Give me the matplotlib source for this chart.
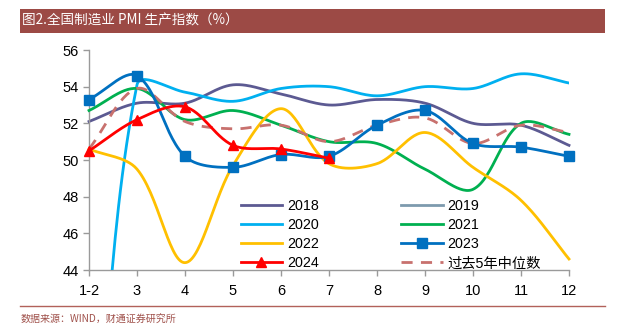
import numpy as np
import matplotlib
matplotlib.use("Agg")
import matplotlib.pyplot as plt
from matplotlib.patches import Rectangle
from matplotlib.lines import Line2D

plt.rcParams['font.family'] = ['Liberation Sans', 'Noto Sans CJK SC', 'DejaVu Sans']

months = ["1-2", "3", "4", "5", "6", "7", "8", "9", "10", "11", "12"]
y2018 = [52.1, 53.1, 53.1, 54.1, 53.6, 53.0, 53.3, 53.1, 52.0, 51.9, 50.8]
y2019 = []
y2020 = [27.8, 54.1, 53.7, 53.2, 53.9, 54.0, 53.5, 54.0, 53.9, 54.7, 54.2]
y2021 = [52.7, 53.9, 52.2, 52.7, 51.9, 51.0, 50.9, 49.5, 48.4, 52.0, 51.4]
y2022 = [50.6, 49.5, 44.4, 49.7, 52.8, 49.8, 49.8, 51.5, 49.6, 47.8, 44.6]
y2023 = [53.3, 54.6, 50.2, 49.6, 50.3, 50.2, 51.9, 52.7, 50.9, 50.7, 50.2]
y2024 = [50.5, 52.2, 52.9, 50.8, 50.6, 50.1]
median5 = [50.6, 53.9, 52.1, 51.7, 51.9, 51.0, 51.9, 52.3, 50.9, 51.9, 51.5]

title = "图2.全国制造业 PMI 生产指数（%）"
source = "数据来源：WIND，财通证券研究所"

# screen scale (pixels per x step / per y unit) used to weight the smoothing
XS, YS = 48.0, 18.33


def smooth(vals, n=30, f=1 / 3):
    """Bezier smoothing whose tangents are weighted by segment lengths."""
    y = np.asarray(vals, float)
    x = np.arange(len(y), dtype=float)
    P = np.column_stack([x * XS, y * YS])
    m = len(P)
    if m < 3:
        return x, y
    d = np.hypot(*np.diff(P, axis=0).T)
    out = []
    for i in range(m - 1):
        p1, p2 = P[i], P[i + 1]
        if i == 0:
            c1 = p1 + (p2 - p1) * f
        else:
            t = P[i + 1] - P[i - 1]
            c1 = p1 + t * f * d[i] / (d[i - 1] + d[i])
        if i + 2 >= m:
            c2 = p2 - (p2 - p1) * f
        else:
            t = P[i + 2] - P[i]
            c2 = p2 - t * f * d[i] / (d[i] + d[i + 1])
        s = np.linspace(0, 1, n, endpoint=(i == m - 2))[:, None]
        b = (1 - s) ** 3 * p1 + 3 * (1 - s) ** 2 * s * c1 + 3 * (1 - s) * s ** 2 * c2 + s ** 3 * p2
        out.append(b)
    B = np.vstack(out)
    return B[:, 0] / XS, B[:, 1] / YS


def fit_width(fig, txt, width_px):
    """Scale a text's font size so it spans the given width in pixels."""
    r = fig.canvas.get_renderer()
    w = txt.get_window_extent(renderer=r).width
    txt.set_fontsize(txt.get_fontsize() * width_px / w)


fig = plt.figure(figsize=(6.26, 3.33), dpi=100)

# header band and footer rule
fig.patches.append(Rectangle((20 / 626, 1 - 33 / 333), 585 / 626, 24 / 333,
                             transform=fig.transFigure, facecolor="#9C4A45",
                             edgecolor="none"))
t_title = fig.text(22 / 626, 1 - 21 / 333, title, color="white", fontsize=10,
                   va="center", ha="left", family=['Noto Sans CJK SC', 'DejaVu Sans'])
fig.add_artist(Line2D([20 / 626, 605 / 626], [1 - 306 / 333] * 2,
                      transform=fig.transFigure, color="#B2615A", lw=1.0))
t_src = fig.text(21 / 626, 1 - 320 / 333, source, color="#A0524C", fontsize=7,
                 va="center", ha="left", family=['Noto Sans CJK SC', 'DejaVu Sans'])
fit_width(fig, t_title, 216)
fit_width(fig, t_src, 157)

ax = fig.add_axes([89 / 626, 63 / 333, 480 / 626, 220 / 333])

series = [
    ("2018", y2018, "#5C5A92", None, "-", False),
    ("2020", y2020, "#00B0F0", None, "-", True),
    ("2022", y2022, "#FFC000", None, "-", False),
    ("2024", y2024, "#FF0000", "^", "-", False),
    ("2019", y2019, "#7D9AAE", None, "-", False),
    ("2021", y2021, "#00B050", None, "-", False),
    ("2023", y2023, "#0070C0", "s", "-", False),
    ("过去5年中位数", median5, "#C8716E", None, "--", False),
]

z_order = {"2019": 1, "2018": 2, "2020": 3, "2021": 4, "2022": 5,
           "过去5年中位数": 6, "2023": 7, "2024": 8}

handles = []
for name, vals, color, marker, ls, clip in series:
    if len(vals):
        xs, ys = smooth(vals)
        line, = ax.plot(xs, ys, color=color, lw=2.0, ls=ls, clip_on=clip,
                        zorder=z_order[name])
        if ls == "--":
            line.set_dashes((4, 3))
        if marker:
            ax.plot(np.arange(len(vals)), vals, ls="none", marker=marker,
                    color=color, ms=7.5, clip_on=False, zorder=z_order[name])
    h = Line2D([], [], color=color, lw=2.0, ls=ls, marker=marker, ms=7.5)
    if ls == "--":
        h.set_dashes((4, 3))
    handles.append(h)

ax.set_xlim(0, len(months) - 1)
ax.set_ylim(44, 56)
ax.set_xticks(np.arange(len(months)))
ax.set_xticklabels(months)
ax.set_yticks(np.arange(44, 57, 2))
for s in ["top", "right"]:
    ax.spines[s].set_visible(False)
for s in ["left", "bottom"]:
    ax.spines[s].set_color("#9A9A9A")
    ax.spines[s].set_linewidth(1.0)
ax.tick_params(axis="both", colors="#9A9A9A", labelcolor="black",
               labelsize=10.5, length=4, width=1.0)
ax.tick_params(axis="x", pad=6)

leg_labels = [s[0] for s in series]
leg = ax.legend(handles, leg_labels, ncol=2, frameon=False, fontsize=10.3,
                loc="lower left", bbox_to_anchor=(0.289, -0.06),
                handlelength=2.9, columnspacing=5.75, labelspacing=0.36,
                handletextpad=0.35)

fig.savefig("out.png", dpi=100)
